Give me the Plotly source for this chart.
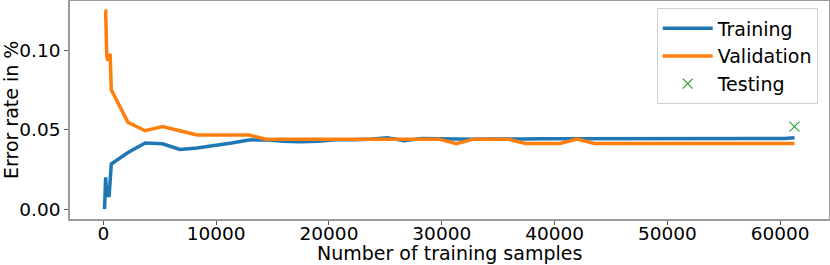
import plotly.graph_objects as go

# ---- data ----
train_sizes = [100, 200, 300, 400, 500, 600, 700,
               2180, 3710, 5240, 6780, 8310, 9840, 11370, 12900, 14440, 15970,
               17500, 19030, 20560, 22100, 23630, 25160, 26690, 28220, 29760, 31290,
               32820, 34350, 35880, 37420, 38950, 40480, 42010, 43540, 45080, 46610,
               48140, 49670, 51200, 52740, 54270, 55800, 57330, 58860, 60400, 61270]

training_error = [0.0, 0.020, 0.0075, 0.015, 0.0075, 0.018, 0.0284,
                  0.0357, 0.0417, 0.0412, 0.0376, 0.0385, 0.0400, 0.0417, 0.0436, 0.0438, 0.0428,
                  0.0425, 0.0428, 0.0438, 0.0438, 0.0440, 0.0450, 0.0431, 0.0446, 0.0444, 0.0440,
                  0.0441, 0.0442, 0.0440, 0.0442, 0.0443, 0.0443, 0.0444, 0.0444, 0.0443, 0.0444,
                  0.0443, 0.0441, 0.0440, 0.0441, 0.0442, 0.0443, 0.0443, 0.0444, 0.0445, 0.0450]

validation_error = [0.125, 0.125, 0.0965, 0.0935, 0.097, 0.097, 0.0752,
                    0.0547, 0.0494, 0.0521, 0.0494, 0.0467, 0.0467, 0.0467, 0.0467, 0.0441, 0.0441,
                    0.0441, 0.0441, 0.0441, 0.0441, 0.0441, 0.0441, 0.0441, 0.0441, 0.0441, 0.0412,
                    0.0441, 0.0441, 0.0441, 0.0414, 0.0414, 0.0414, 0.0441, 0.0414, 0.0414, 0.0414,
                    0.0414, 0.0414, 0.0414, 0.0414, 0.0414, 0.0414, 0.0414, 0.0414, 0.0414, 0.0414]

test_size = [61270]
test_error = [0.052]

x_ticks = [0, 10000, 20000, 30000, 40000, 50000, 60000]
y_ticks = [0.00, 0.05, 0.10]
y_tick_labels = ["0.00", "0.05", "0.10"]

x_title = "Number of training samples"
y_title = "Error rate in %"

FONT = "DejaVu Sans"
SPINE = "#9a9a9a"

fig = go.Figure()
fig.add_trace(go.Scatter(x=train_sizes, y=training_error, mode="lines", name="Training",
                         line=dict(color="#1f77b4", width=3.5)))
fig.add_trace(go.Scatter(x=train_sizes, y=validation_error, mode="lines", name="Validation",
                         line=dict(color="#ff7f0e", width=3.5)))
fig.add_trace(go.Scatter(x=test_size, y=test_error, mode="markers", name="Testing",
                         marker=dict(symbol="x-thin", size=10, color="#2ca02c",
                                     line=dict(color="#2ca02c", width=1.2))))

fig.update_layout(
    width=830, height=265,
    margin=dict(l=70, r=1, t=1, b=46, autoexpand=False),
    paper_bgcolor="white", plot_bgcolor="white",
    font=dict(family=FONT, size=19, color="black"),
    showlegend=True,
    legend=dict(x=0.773, y=0.966, xanchor="left", yanchor="top",
                bgcolor="white", bordercolor="#d0d0d0", borderwidth=1,
                font=dict(family=FONT, size=19), itemwidth=50, tracegroupgap=0),
    annotations=[
        dict(text=x_title, xref="paper", yref="paper", x=0.5, y=0,
             xanchor="center", yanchor="middle", yshift=-34, showarrow=False,
             font=dict(family=FONT, size=19, color="black")),
        dict(text=y_title, xref="paper", yref="paper", x=0, y=0.5,
             xanchor="center", yanchor="middle", xshift=-59, textangle=-90, showarrow=False,
             font=dict(family=FONT, size=19, color="black")),
    ],
)
fig.update_xaxes(
    range=[-2960, 64330], tickvals=x_ticks, ticktext=[str(v) for v in x_ticks],
    showgrid=False, zeroline=False, automargin=False,
    showline=True, mirror=True, linecolor=SPINE, linewidth=1.5,
    ticks="outside", ticklen=4, tickcolor="#555555", tickwidth=1,
    tickfont=dict(family=FONT, size=18.5), ticklabelstandoff=-7,
)
fig.update_yaxes(
    range=[-0.00625, 0.13125], tickvals=y_ticks, ticktext=y_tick_labels,
    showgrid=False, zeroline=False, automargin=False,
    showline=True, mirror=True, linecolor=SPINE, linewidth=1.5,
    ticks="outside", ticklen=4, tickcolor="#555555", tickwidth=1,
    tickfont=dict(family=FONT, size=18.5),
)

fig.write_html("out.html", config={"displayModeBar": False},
               post_script="document.body.style.margin='0';document.body.style.overflow='hidden';")
